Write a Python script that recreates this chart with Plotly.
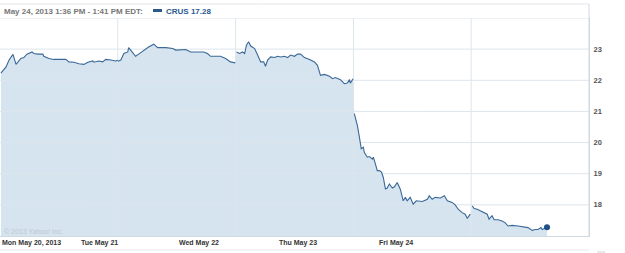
import plotly.graph_objects as go

# ---- data (minutes since 9:30 open, price) ----
day_names = ["Mon May 20, 2013", "Tue May 21", "Wed May 22", "Thu May 23", "Fri May 24"]

mon_min = [3, 10, 20, 30, 43, 53, 69, 79, 89, 106, 112, 126, 142, 145, 162, 178, 202, 218, 228, 245,
           261, 278, 291, 307, 311, 327, 340, 350, 367, 383, 390]
mon_px = [22.23, 22.32, 22.43, 22.65, 22.83, 22.51, 22.70, 22.73, 22.84, 22.91, 22.86, 22.84, 22.84, 22.77,
          22.70, 22.67, 22.67, 22.67, 22.59, 22.58, 22.53, 22.51, 22.58, 22.62, 22.58, 22.62, 22.59, 22.67,
          22.65, 22.62, 22.64]

tue_min = [1, 10, 20, 33, 36, 46, 59, 69, 86, 102, 119, 132, 159, 182, 192, 208, 225, 241, 258, 284,
           297, 307, 324, 340, 357, 373, 389]
tue_px = [22.61, 22.65, 22.86, 22.91, 23.05, 22.91, 22.77, 22.84, 22.97, 23.07, 23.16, 23.05, 23.05, 23.02,
          22.97, 22.97, 22.99, 22.91, 22.91, 22.91, 22.86, 22.77, 22.77, 22.77, 22.70, 22.59, 22.56]

wed_min = [3, 13, 23, 30, 36, 43, 50, 63, 73, 83, 93, 99, 106, 116, 129, 139, 149, 162, 172, 182, 195,
           205, 215, 228, 245, 261, 271, 281, 294, 311, 321, 330, 347, 360, 370, 377, 380, 389]
wed_px = [22.91, 22.86, 22.91, 22.86, 23.13, 23.24, 23.10, 23.02, 22.81, 22.59, 22.59, 22.45, 22.65,
          22.75, 22.73, 22.77, 22.75, 22.77, 22.73, 22.81, 22.77, 22.84, 22.84, 22.73, 22.67, 22.59, 22.48,
          22.16, 22.19, 22.13, 22.05, 22.09, 22.02, 21.89, 21.91, 22.02, 21.91, 22.05]

thu_min = [3, 10, 13, 20, 26, 33, 36, 46, 53, 63, 66, 73, 79, 86, 93, 99, 106, 112, 119, 129, 136, 145,
           155, 165, 172, 178, 188, 198, 208, 228, 245, 251, 261, 271, 288, 301, 311, 327, 337, 347, 360,
           370, 377, 387]
thu_px = [20.93, 20.66, 20.55, 20.17, 19.80, 19.85, 19.69, 19.53, 19.55, 19.47, 19.53, 19.31, 19.10,
          19.10, 19.05, 18.88, 18.51, 18.54, 18.67, 18.54, 18.58, 18.72, 18.51, 18.13, 18.24, 18.13, 18.24,
          18.02, 18.13, 18.11, 18.18, 18.29, 18.18, 18.24, 18.22, 18.29, 18.13, 18.08, 18.00, 17.86, 17.75,
          17.70, 17.57, 17.70]

fri_min = [3, 10, 20, 30, 40, 53, 59, 69, 76, 89, 102, 112, 122, 135, 155, 178, 188, 202, 212, 221,
           231, 235, 245, 251]
fri_px = [17.97, 17.88, 17.86, 17.81, 17.75, 17.70, 17.54, 17.65, 17.52, 17.52, 17.48, 17.43, 17.32,
          17.34, 17.32, 17.30, 17.27, 17.18, 17.21, 17.21, 17.27, 17.21, 17.24, 17.28]

y_ticks = [18, 19, 20, 21, 22, 23]
y_tick_text = ["18", "19", "20", "21", "22", "23"]
label_pos = [0.0, 0.67, 1.50, 2.35, 3.20]
header = "May 24, 2013 1:36 PM - 1:41 PM EDT:"
legend_text = "CRUS 17.28"

SESSION = 390.0
days_min = [mon_min, tue_min, wed_min, thu_min, fri_min]
days_px = [mon_px, tue_px, wed_px, thu_px, fri_px]

xs, ys = [], []
for i, (mm, pp) in enumerate(zip(days_min, days_px)):
    xs += [i + m / SESSION for m in mm] + [None]
    ys += list(pp) + [None]
xs, ys = xs[:-1], ys[:-1]

X0, X1 = 0.0, 5.0
Y0, Y1 = 17.0, 24.0

LINE = "#3a6897"
FILL = "#d5e4ef"
GRID = "#dde5ec"

fig = go.Figure()
# area fill
fig.add_trace(go.Scatter(x=xs, y=ys, mode="lines", line=dict(width=0, color=FILL),
                         fill="tozeroy", fillcolor=FILL, hoverinfo="skip", showlegend=False))
# grid lines drawn above the fill
gx, gy = [], []
for v in y_ticks + [Y1]:
    gx += [X0, X1, None]
    gy += [v, v, None]
for d in range(1, len(day_names)):
    gx += [d, d, None]
    gy += [Y0, Y1, None]
fig.add_trace(go.Scatter(x=gx, y=gy, mode="lines", line=dict(width=1, color=GRID),
                         hoverinfo="skip", showlegend=False))
# price line
fig.add_trace(go.Scatter(x=xs, y=ys, mode="lines", line=dict(width=1.1, color=LINE),
                         showlegend=False))
# last point marker
fig.add_trace(go.Scatter(x=[4 + fri_min[-1] / SESSION], y=[fri_px[-1]], mode="markers",
                         marker=dict(size=6, color="#1f4f86"), showlegend=False))

FONT = "Liberation Sans"
fig.update_layout(
    width=625, height=253,
    margin=dict(l=0, r=36, t=18, b=17),
    paper_bgcolor="white", plot_bgcolor="white",
    xaxis=dict(range=[X0, X1], showgrid=False, zeroline=False, showticklabels=False,
               showline=True, linecolor="#d0d8e0", linewidth=1, mirror=False, fixedrange=True),
    yaxis=dict(range=[Y0, Y1], side="right", showgrid=False, zeroline=False,
               tickvals=y_ticks, ticktext=y_tick_text, ticks="", ticklabelstandoff=2,
               tickfont=dict(family=FONT, size=7.5, color="#555555", weight="bold"),
               showline=True, linecolor="#d0d8e0", linewidth=1, fixedrange=True),
)

# frame pieces
fig.add_shape(type="line", xref="paper", yref="paper", x0=0, x1=1, y0=1 + 14 / 218, y1=1 + 14 / 218,
              line=dict(color="#e2e6ea", width=1))
fig.add_shape(type="line", xref="paper", yref="paper", x0=1, x1=1, y0=0, y1=1 + 14 / 218,
              line=dict(color="#d0d8e0", width=1))
fig.add_shape(type="line", xref="paper", yref="paper", x0=0, x1=1, y0=-14 / 218, y1=-14 / 218,
              line=dict(color="#e2e6ea", width=1))
fig.add_shape(type="line", xref="paper", yref="paper", x0=597 / 589, x1=605 / 589,
              y0=-16 / 218, y1=-16 / 218, line=dict(color="#d0d0d0", width=1))

# header
fig.add_annotation(xref="paper", yref="paper", x=0, y=1 + 7 / 218, xshift=2, text=header,
                   showarrow=False, xanchor="left", yanchor="middle",
                   font=dict(family=FONT, size=8, color="#777777", weight="bold"))
fig.add_shape(type="rect", xref="paper", yref="paper", x0=153 / 589, x1=162 / 589,
              y0=1 + 6 / 218, y1=1 + 9 / 218, line=dict(width=0), fillcolor="#2a5a8e")
fig.add_annotation(xref="paper", yref="paper", x=164 / 589, y=1 + 7 / 218, text=legend_text,
                   showarrow=False, xanchor="left", yanchor="middle",
                   font=dict(family=FONT, size=8, color="#2a5a8e", weight="bold"))

# copyright
fig.add_annotation(xref="paper", yref="paper", x=0, y=5 / 218, xshift=2, text="© 2013 Yahoo! Inc.",
                   showarrow=False, xanchor="left", yanchor="middle",
                   font=dict(family=FONT, size=7, color="#c0c8d0"))

# x labels
for name, pos in zip(day_names, label_pos):
    fig.add_annotation(x=pos, xref="x", yref="paper", y=-7 / 218, text=name, showarrow=False,
                       xanchor="left", yanchor="middle",
                       font=dict(family=FONT, size=7, color="#333333", weight="bold"))

fig.write_html("out.html")
